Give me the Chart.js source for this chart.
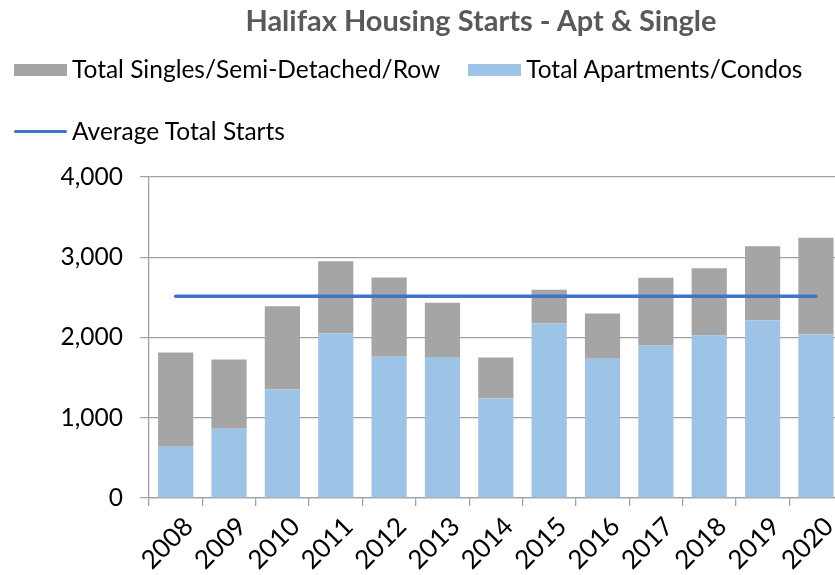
<!DOCTYPE html>
<html>
<head>
<meta charset="utf-8">
<title>Halifax Housing Starts</title>
<script src="https://cdn.jsdelivr.net/npm/chart.js@4.4.0/dist/chart.umd.min.js"></script>
<style>
  html, body { margin: 0; padding: 0; background: #fff; overflow: hidden; }
  #wrap { position: relative; width: 843px; height: 575px; }
  #wrap canvas { position: absolute; left: 0; top: 0; }
  #chart-title {
    position: absolute; top: 2px; left: 481px; transform: translateX(-50%);
    font: bold 29px Lato, sans-serif; color: #595959; white-space: nowrap;
  }
  .legend-row {
    position: absolute; left: 14px; display: flex; align-items: center;
    font: 24.5px Lato, sans-serif; color: #000; white-space: nowrap;
  }
  .legend-item { display: flex; align-items: center; margin-right: 28px; }
  .swatch { width: 53px; height: 12px; margin-right: 5px; position: relative; top: 1px; }
  .swatch.line { height: 3.5px; border-radius: 2px; }
</style>
</head>
<body>
<div id="wrap">
  <canvas id="starts-chart"></canvas>
  <div id="chart-title">Halifax Housing Starts - Apt &amp; Single</div>
  <div class="legend-row" id="legend-row-1" style="top:54px"></div>
  <div class="legend-row" id="legend-row-2" style="top:116px"></div>
</div>
<script>
const years = ['2008', '2009', '2010', '2011', '2012', '2013', '2014',
               '2015', '2016', '2017', '2018', '2019', '2020'];
const apartments = [640, 864, 1351, 2054, 1760, 1756, 1244, 2174, 1736, 1901, 2029, 2211, 2037];
const singles = [1174, 863, 1037, 896, 988, 678, 508, 421, 562, 843, 835, 925, 1207];
const averageTotal = [2515, 2515, 2515, 2515, 2515, 2515, 2515, 2515, 2515, 2515, 2515, 2515, 2515];
const yTickValues = [0, 1000, 2000, 3000, 4000];

const COLOR_SINGLES = '#A5A5A5';
const COLOR_APTS = '#9DC3E6';
const COLOR_AVG = '#4472C4';
const AXIS_GRAY = '#a0a0a0';
const FONT = 'Lato';

function buildLegend(chart) {
  const rows = [document.getElementById('legend-row-1'), document.getElementById('legend-row-2')];
  // singles first, apartments second, average line on its own row
  const layout = [[2, 1], [0]];
  layout.forEach((idxs, r) => {
    idxs.forEach(i => {
      const ds = chart.data.datasets[i];
      const item = document.createElement('div');
      item.className = 'legend-item';
      const sw = document.createElement('span');
      sw.className = ds.type === 'line' ? 'swatch line' : 'swatch';
      sw.style.background = ds.type === 'line' ? ds.borderColor : ds.backgroundColor;
      const txt = document.createElement('span');
      txt.textContent = ds.label;
      item.appendChild(sw);
      item.appendChild(txt);
      rows[r].appendChild(item);
    });
  });
}

document.addEventListener('DOMContentLoaded', function() {
  const ctx = document.getElementById('starts-chart').getContext('2d');

  const chart = new Chart(ctx, {
    type: 'bar',
    data: {
      labels: years,
      datasets: [
        {
          type: 'line',
          label: 'Average Total Starts',
          data: averageTotal,
          stack: 'avg',
          borderColor: COLOR_AVG,
          borderWidth: 3.5,
          borderCapStyle: 'round',
          pointRadius: 0,
          fill: false
        },
        {
          label: 'Total Apartments/Condos',
          data: apartments,
          backgroundColor: COLOR_APTS,
          barPercentage: 0.66,
          categoryPercentage: 1
        },
        {
          label: 'Total Singles/Semi-Detached/Row',
          data: singles,
          backgroundColor: COLOR_SINGLES,
          barPercentage: 0.66,
          categoryPercentage: 1
        }
      ]
    },
    options: {
      responsive: true,
      maintainAspectRatio: false,
      animation: false,
      layout: {
        autoPadding: false,
        padding: { top: 177, left: 0, right: 0, bottom: 0 }
      },
      plugins: {
        legend: { display: false },
        title: { display: false },
        tooltip: { enabled: false }
      },
      scales: {
        x: {
          stacked: true,
          offset: true,
          grid: {
            offset: true,
            drawOnChartArea: false,
            drawTicks: true,
            tickLength: 8,
            color: AXIS_GRAY,
            lineWidth: 1.25
          },
          border: { color: AXIS_GRAY, width: 1.25 },
          ticks: {
            autoSkip: false,
            minRotation: 45,
            maxRotation: 45,
            labelOffset: 13,
            padding: 5,
            color: '#000',
            font: { family: FONT, size: 26 }
          },
          afterFit: function(scale) { scale.height = 77; }
        },
        y: {
          stacked: true,
          min: 0,
          max: 4000,
          grid: { color: AXIS_GRAY, lineWidth: 1.25, tickLength: 9 },
          border: { color: AXIS_GRAY, width: 1.25 },
          ticks: {
            padding: 17,
            color: '#000',
            font: { family: FONT, size: 24.5 },
            callback: v => v.toLocaleString('en-US')
          },
          afterBuildTicks: function(scale) {
            scale.ticks = yTickValues.map(v => ({ value: v }));
          },
          afterFit: function(scale) { scale.width = 149; }
        }
      }
    }
  });

  buildLegend(chart);
});
</script>
</body>
</html>
